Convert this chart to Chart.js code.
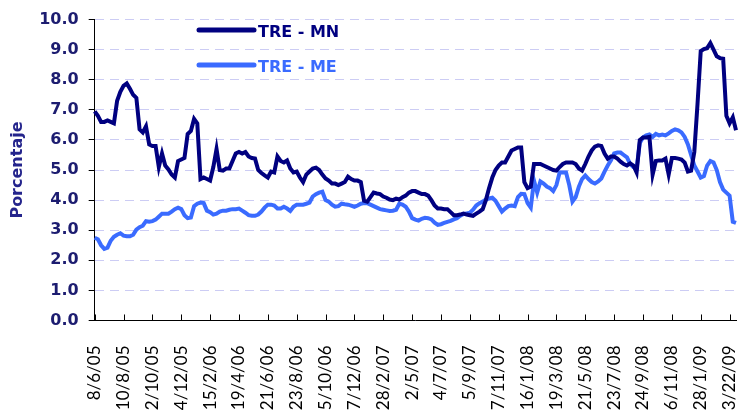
<!DOCTYPE html>
<html lang="es">
<head>
<meta charset="utf-8">
<title>TRE - MN / TRE - ME</title>
<script src="https://cdn.jsdelivr.net/npm/chart.js@4.4.1/dist/chart.umd.min.js"></script>
<style>
  html, body { margin: 0; padding: 0; background: #fff; overflow: hidden; }
  #wrap { width: 738px; height: 437px; }
</style>
</head>
<body>
<div id="wrap"><canvas id="grafico" width="738" height="437"></canvas></div>
<script>
// Etiquetas del eje X (una cada 9 semanas)
const etiquetas = ['8/6/05', '10/8/05', '12/10/05', '14/12/05', '15/2/06', '19/4/06', '21/6/06', '23/8/06',
    '25/10/06', '27/12/06', '28/2/07', '2/5/07', '4/7/07', '5/9/07', '7/11/07', '16/1/08', '19/3/08',
    '21/5/08', '23/7/08', '24/9/08', '26/11/08', '28/1/09', '3/22/09'];
const paso = 9;

// TRE moneda nacional (semanal, %)
const treMN = [
    6.95, 6.8, 6.6, 6.6, 6.65, 6.6, 6.55, 7.3, 7.6, 7.8,
    7.88, 7.7, 7.5, 7.4, 6.35, 6.25, 6.45, 5.85, 5.8, 5.8,
    5.1, 5.55, 5.15, 5.02, 4.85, 4.75, 5.3, 5.35, 5.4, 6.2,
    6.3, 6.7, 6.55, 4.7, 4.75, 4.7, 4.65, 5.1, 5.7, 5.0,
    4.98, 5.05, 5.05, 5.3, 5.55, 5.6, 5.55, 5.6, 5.45, 5.4,
    5.38, 5.0, 4.9, 4.82, 4.75, 4.95, 4.92, 5.45, 5.3, 5.25,
    5.32, 5.05, 4.92, 4.95, 4.75, 4.6, 4.85, 4.95, 5.05, 5.08,
    5.0, 4.85, 4.72, 4.65, 4.55, 4.55, 4.5, 4.55, 4.6, 4.78,
    4.7, 4.65, 4.65, 4.6, 3.98, 3.95, 4.1, 4.25, 4.22, 4.2,
    4.12, 4.08, 4.02, 4.0, 4.05, 4.02, 4.1, 4.15, 4.25, 4.3,
    4.3, 4.25, 4.2, 4.2, 4.15, 4.0, 3.82, 3.72, 3.72, 3.7,
    3.7, 3.6, 3.5, 3.5, 3.52, 3.55, 3.52, 3.5, 3.48, 3.55,
    3.62, 3.7, 4.0, 4.4, 4.75, 5.0, 5.15, 5.25, 5.25, 5.45,
    5.65, 5.7, 5.75, 5.75, 4.6, 4.4, 4.45, 5.2, 5.2, 5.2,
    5.15, 5.1, 5.05, 5.0, 4.98, 5.1, 5.2, 5.25, 5.25, 5.25,
    5.2, 5.05, 4.98, 5.2, 5.45, 5.65, 5.78, 5.82, 5.8, 5.55,
    5.38, 5.45, 5.45, 5.38, 5.28, 5.2, 5.15, 5.22, 5.15, 4.92,
    6.0, 6.08, 6.08, 6.1, 4.85, 5.3, 5.32, 5.32, 5.38, 4.85,
    5.4, 5.4, 5.38, 5.35, 5.25, 4.95, 4.98, 5.6, 7.2, 8.95,
    9.02, 9.05, 9.22, 9.0, 8.78, 8.72, 8.7, 6.8, 6.55, 6.75,
    6.32
];

// TRE moneda extranjera (semanal, %)
const treME = [
    2.75, 2.7, 2.5, 2.38, 2.42, 2.65, 2.78, 2.85, 2.9, 2.82,
    2.8, 2.8, 2.85, 3.02, 3.1, 3.15, 3.3, 3.28, 3.3, 3.35,
    3.45, 3.55, 3.55, 3.55, 3.62, 3.7, 3.75, 3.7, 3.5, 3.4,
    3.42, 3.8, 3.88, 3.92, 3.9, 3.65, 3.6, 3.52, 3.55, 3.62,
    3.65, 3.65, 3.68, 3.7, 3.7, 3.72, 3.65, 3.58, 3.5, 3.48,
    3.48, 3.52, 3.62, 3.75, 3.85, 3.85, 3.82, 3.72, 3.72, 3.78,
    3.72, 3.64, 3.78, 3.85, 3.85, 3.85, 3.88, 3.92, 4.12, 4.2,
    4.25, 4.28, 4.0, 3.95, 3.85, 3.78, 3.8, 3.88, 3.86, 3.85,
    3.82, 3.78, 3.82, 3.88, 3.9, 3.9, 3.85, 3.8, 3.75, 3.7,
    3.68, 3.66, 3.64, 3.65, 3.68, 3.88, 3.85, 3.78, 3.62, 3.4,
    3.35, 3.32, 3.38, 3.41, 3.4, 3.36, 3.25, 3.18, 3.2, 3.24,
    3.28, 3.31, 3.36, 3.4, 3.48, 3.54, 3.56, 3.58, 3.68, 3.82,
    3.9, 3.95, 4.02, 4.06, 4.08, 3.98, 3.8, 3.62, 3.72, 3.8,
    3.82, 3.8, 4.1, 4.21, 4.2, 3.9, 3.75, 4.65, 4.25, 4.62,
    4.55, 4.45, 4.4, 4.3, 4.5, 4.92, 4.92, 4.92, 4.5, 3.95,
    4.1, 4.45, 4.7, 4.82, 4.7, 4.6, 4.55, 4.62, 4.72, 4.95,
    5.15, 5.32, 5.55, 5.58, 5.58, 5.5, 5.42, 5.2, 5.1, 5.05,
    5.9, 6.08, 6.15, 6.18, 6.1, 6.2, 6.15, 6.18, 6.15, 6.22,
    6.3, 6.35, 6.32, 6.25, 6.1, 5.85, 5.5, 5.15, 4.95, 4.75,
    4.8, 5.15, 5.3, 5.25, 5.0, 4.6, 4.35, 4.25, 4.15, 3.28,
    3.24
];

const semanas = treMN.map((_, i) => i);

const colorMN = '#000080';
const colorME = '#3a6bff';
const colorTexto = '#1c1c70';

// marcas del eje X hacia adentro
const marcasX = {
    id: 'marcasX',
    afterDraw(chart) {
        const { ctx, scales: { x }, chartArea } = chart;
        ctx.save();
        ctx.strokeStyle = '#000';
        ctx.lineWidth = 1;
        etiquetas.forEach((_, k) => {
            const px = Math.round(x.getPixelForValue(k * paso)) + 0.5;
            ctx.beginPath();
            ctx.moveTo(px, chartArea.bottom);
            ctx.lineTo(px, chartArea.bottom - 6);
            ctx.stroke();
        });
        ctx.restore();
    }
};

// leyenda dentro del grafico
const leyenda = {
    id: 'leyenda',
    afterDraw(chart) {
        const ctx = chart.ctx;
        ctx.save();
        chart.data.datasets.forEach((ds, k) => {
            const y = 30 + k * 35;
            ctx.strokeStyle = ds.borderColor;
            ctx.lineWidth = 5;
            ctx.lineCap = 'round';
            ctx.beginPath();
            ctx.moveTo(199, y);
            ctx.lineTo(254, y);
            ctx.stroke();
            ctx.fillStyle = ds.borderColor;
            ctx.font = 'bold 16px "DejaVu Sans"';
            ctx.textBaseline = 'middle';
            ctx.fillText(ds.label, 258, y + 3);
        });
        ctx.restore();
    }
};

const ctx = document.getElementById('grafico').getContext('2d');
new Chart(ctx, {
    type: 'line',
    data: {
        labels: semanas,
        datasets: [{
            label: 'TRE - MN',
            data: treMN,
            borderColor: colorMN,
            borderWidth: 4,
            pointRadius: 0,
            tension: 0,
            fill: false
        }, {
            label: 'TRE - ME',
            data: treME,
            borderColor: colorME,
            borderWidth: 4,
            pointRadius: 0,
            tension: 0,
            fill: false
        }]
    },
    options: {
        responsive: false,
        animation: false,
        events: [],
        layout: { padding: { top: 19, left: 8, right: 2, bottom: 0 } },
        plugins: {
            legend: { display: false },
            tooltip: { enabled: false }
        },
        scales: {
            x: {
                type: 'category',
                offset: false,
                grid: { display: false },
                border: { display: true, color: '#000', width: 1 },
                afterFit: s => { s.paddingRight = 0; },
                ticks: {
                    autoSkip: false,
                    minRotation: 90,
                    maxRotation: 90,
                    padding: 17,
                    color: '#000',
                    font: { family: 'Lato', size: 17 },
                    callback: (v, i) => (i % paso === 0 ? etiquetas[i / paso] : null)
                }
            },
            y: {
                min: 0,
                max: 10,
                grid: {
                    color: '#ccccf4',
                    lineWidth: 1,
                    tickColor: '#000',
                    tickLength: 6,
                    tickBorderDash: []
                },
                border: { display: true, color: '#000', width: 1, dash: [9, 6] },
                ticks: {
                    stepSize: 1,
                    padding: 10,
                    color: colorTexto,
                    font: { family: 'DejaVu Sans', size: 16, weight: 'bold' },
                    callback: v => v.toFixed(1)
                },
                title: {
                    display: true,
                    text: 'Porcentaje',
                    color: '#24248c',
                    font: { family: 'DejaVu Sans', size: 16, weight: 'bold' },
                    padding: { top: 0, bottom: 2 }
                }
            }
        }
    },
    plugins: [marcasX, leyenda]
});
</script>
</body>
</html>
